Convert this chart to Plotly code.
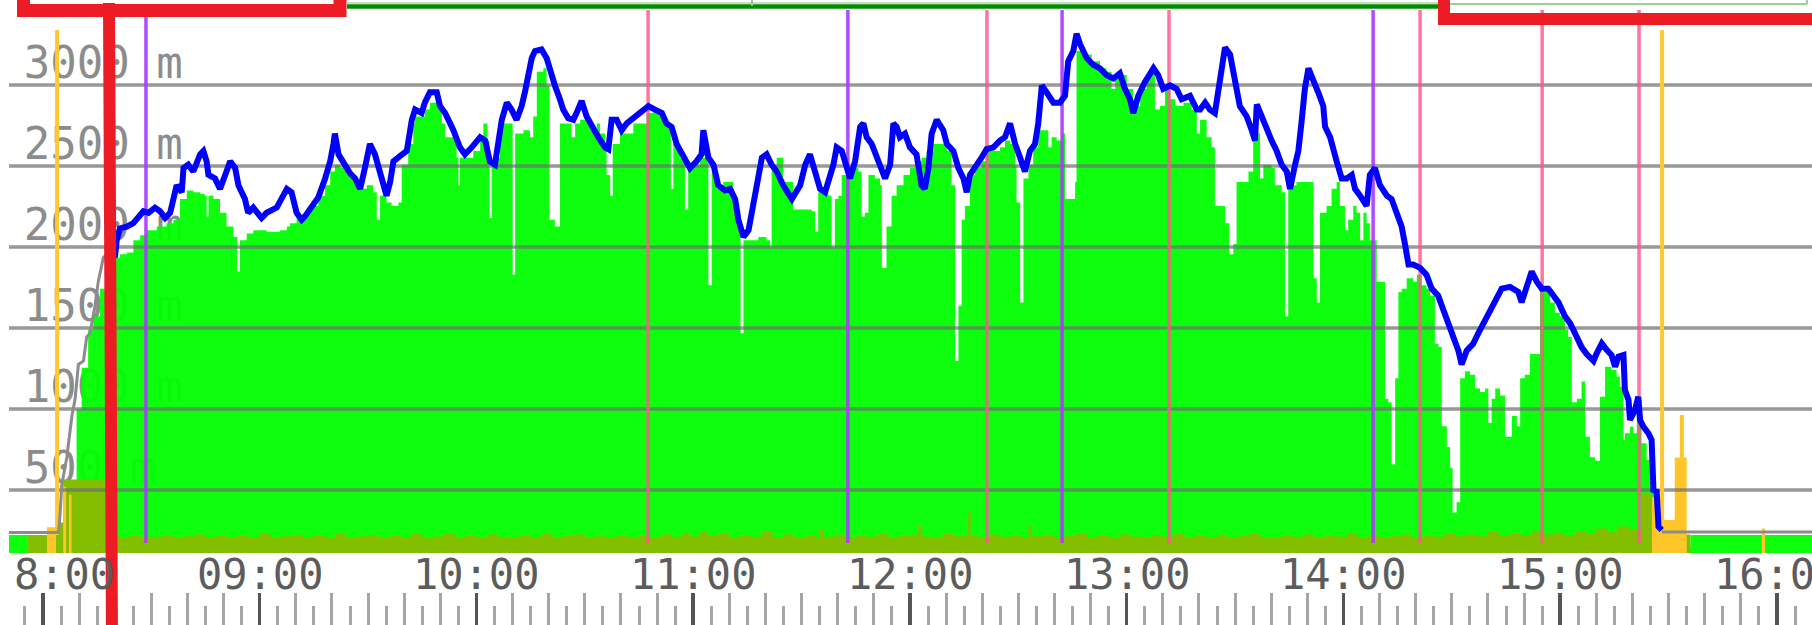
import plotly.graph_objects as go

# ---------------- data (time = minutes after 08:00, altitude in metres) ----------------
X_MIN, X_MAX = -9.41, 489.69
Y_MIN, Y_MAX = 111.1, 3524.7

pre_t = [-9.4, 4.25, 4.7, 5.2, 6.6, 8.0, 8.9, 9.8, 11.2, 12.1, 13.0, 13.9, 14.4, 15.3, 15.8, 16.7, 17.6, 19.9]
pre_alt = [238, 238, 340, 532, 702, 957, 1063, 1275, 1297, 1445, 1467, 1573, 1637, 1786, 1839, 1934, 1956, 1934]

post_t = [448.1, 489.7]
post_alt = [240, 240]

track_t = [19.9, 20.4, 21.3, 23.2, 25.0, 26.4, 27.8, 29.2, 31.0, 32.4, 33.8, 35.2, 36.1, 37.0, 38.4, 38.9, 40.2, 41.6,
           43.5, 44.4, 45.3, 45.8, 47.6, 49.0, 50.8, 51.8, 53.2, 54.1, 55.9, 56.8, 58.2, 60.5, 61.9, 64.7, 67.5, 68.8,
           70.2, 71.6, 72.5, 74.4, 76.2, 78.1, 79.5, 80.4, 80.8, 81.8, 83.6, 85.0, 86.4, 87.8, 89.1, 90.5, 91.9, 93.3,
           95.1, 96.1, 97.0, 98.8,
           100.7, 102.1, 103.0, 104.8, 105.7, 107.1, 109.0, 109.9, 111.3, 112.7, 113.6, 115.4, 116.8, 118.7, 121.0,
           122.4, 123.7, 125.1, 126.0, 127.0, 128.4, 129.7, 131.1, 132.5, 133.4, 134.4, 135.3, 136.2, 138.0, 139.4,
           140.4, 141.7, 143.1, 144.0, 145.4, 146.8, 147.7, 149.1, 150.5, 151.9, 153.7, 155.6, 156.5, 157.4, 158.8,
           160.2, 161.6, 163.4, 165.3, 167.6, 169.4, 171.3, 172.6, 174.0, 175.4, 177.3, 179.1, 180.9, 182.3, 182.8,
           184.2, 185.6, 186.9, 188.8, 190.2, 191.6, 192.5, 193.9, 195.3, 196.2, 197.6, 199.0, 200.3, 201.7, 203.1,
           204.9, 207.3, 208.6,
           209.6, 211.0, 212.3, 213.7, 215.1, 216.5, 217.4, 218.8, 219.7, 221.1, 222.0, 223.4, 224.8, 226.2, 227.1,
           228.0, 229.4, 231.7, 233.1, 234.5, 235.4, 236.3, 237.2, 238.6, 240.0, 241.8, 243.2, 244.1, 245.1, 246.0,
           247.4, 249.2, 250.2, 252.0, 253.4, 254.8, 255.7, 256.6, 258.0, 259.8, 261.2, 263.1, 264.9, 266.3, 267.7,
           269.1, 270.5, 271.8, 273.2, 274.6, 275.5, 276.5, 277.8, 279.7, 281.5, 282.9, 283.8, 285.2, 286.1, 287.1,
           288.9, 290.7, 292.6, 294.4, 296.3, 298.1, 299.5, 300.9, 301.8, 303.2, 305.0, 307.4, 308.7, 310.1, 312.0,
           313.8, 315.2, 317.5, 319.4,
           320.3, 321.7, 323.0, 324.4, 325.4, 326.3, 327.2, 328.6, 329.5, 330.4, 331.3, 333.2, 334.6, 335.5, 336.0,
           337.3, 338.7, 340.1, 341.5, 342.9, 344.3, 345.2, 346.6, 347.5, 348.4, 349.3, 350.3, 351.6, 353.0, 354.4,
           354.9, 356.3, 357.2, 358.1, 359.5, 360.9, 362.3, 363.2, 364.6, 366.4, 367.3, 368.7, 370.1, 372.0, 373.3,
           374.7, 376.1, 377.0, 378.0, 379.3, 381.2, 383.0, 384.4, 386.2, 388.1, 389.0, 390.4, 391.8, 392.7, 394.1,
           395.9, 397.3, 398.7, 400.6, 402.4, 403.8, 406.1, 408.4, 409.3, 410.7, 412.1, 413.5, 414.9, 416.7, 418.1,
           419.5, 421.3, 422.7, 424.1, 425.9, 427.3, 429.2,
           430.1, 431.5, 432.9, 434.2, 435.2, 436.1, 437.5, 437.9, 438.9, 439.3, 440.7, 441.6, 442.1, 443.0, 444.4,
           445.3, 445.8, 446.7, 447.2, 448.1]
track_alt = [1934, 2041, 2115, 2126, 2147, 2189, 2221, 2211, 2243, 2221, 2179, 2211, 2296, 2381, 2338, 2487, 2508, 2466,
             2572, 2593, 2529, 2445, 2423, 2359, 2466, 2529, 2487, 2381, 2296, 2211, 2243, 2179, 2211, 2243, 2359, 2338,
             2211, 2168, 2189, 2243, 2306, 2423, 2529, 2636, 2700, 2572, 2508, 2455, 2423, 2359, 2487, 2636, 2572, 2466,
             2317, 2402, 2529, 2561,
             2593, 2785, 2848, 2827, 2891, 2955, 2955, 2870, 2827, 2763, 2721, 2615, 2572, 2615, 2678,
             2657, 2529, 2508, 2657, 2785, 2891, 2848, 2785, 2870, 2955, 3082, 3167, 3210, 3220, 3167,
             3082, 2997, 2912, 2848, 2795, 2785, 2827, 2902, 2806, 2742, 2678, 2615, 2604, 2785, 2785,
             2721, 2763, 2795, 2827, 2870, 2848, 2827, 2763, 2742, 2636, 2551, 2487, 2529, 2572, 2721,
             2551, 2508, 2381, 2349, 2359, 2296, 2168, 2062, 2104, 2211, 2359, 2551, 2572, 2508, 2466,
             2381, 2296, 2338,
             2381, 2508, 2572, 2466, 2359, 2338, 2402, 2508, 2615, 2593, 2529, 2423, 2529, 2742, 2763,
             2678, 2636, 2508, 2423, 2508, 2763, 2742, 2678, 2700, 2615, 2572, 2381, 2359, 2487, 2700,
             2785, 2721, 2636, 2593, 2487, 2423, 2338, 2445, 2487, 2551, 2604, 2615, 2657, 2678, 2763,
             2636, 2551, 2466, 2593, 2636, 2763, 2997, 2955, 2891, 2891, 2933, 3146, 3210, 3316, 3252,
             3167, 3125, 3103, 3061, 3040, 3072, 2976, 2912, 2827, 2933, 3018, 3103, 3061, 2976, 2997,
             2976, 2912, 2933, 2848,
             2848, 2891, 2848, 2827, 2976, 3146, 3231, 3189, 3061, 2976, 2870, 2806, 2721, 2657, 2880,
             2806, 2742, 2657, 2593, 2508, 2466, 2359, 2508, 2593, 2774, 2976, 3103, 3018, 2955, 2870,
             2742, 2678, 2615, 2529, 2423, 2423, 2445, 2359, 2317, 2253, 2445, 2487, 2381, 2317, 2296,
             2211, 2126, 2019, 1892, 1892, 1871, 1828, 1743, 1700, 1573, 1530, 1445, 1360, 1275, 1360,
             1403, 1467, 1530, 1615, 1679, 1743, 1754, 1722, 1658, 1743, 1849, 1786, 1743, 1743, 1700,
             1658, 1573, 1530, 1467, 1382, 1339, 1297,
             1344, 1405, 1364, 1333, 1261, 1323, 1333, 1117, 1056, 932, 994, 1076, 932, 891, 850,
             809, 500, 490, 274, 253]

fill_t = [-9.4, -4.4, 9.3, 10.7, 12.5, 13.9, 15.8, 17.6, 19.9, 21.3, 23.2, 25.0, 26.9, 28.7, 31.5, 34.2, 36.1, 37.9,
          39.8, 41.6, 43.5, 44.8, 45.3, 45.8, 47.2, 49.0, 50.8, 52.7, 53.8, 54.5, 56.4, 58.2, 61.9, 65.6, 67.5, 68.4,
          70.2, 72.1, 73.9, 76.2, 78.1, 79.5, 80.8, 82.2, 84.1, 85.9, 87.8, 89.6, 91.4, 92.4, 93.3, 95.1, 96.5, 98.4,
          99.3, 101.1, 102.5, 103.0, 104.4, 105.7, 107.1, 108.5, 110.4, 111.3, 113.6, 114.5, 115.0, 115.4, 117.3,
          119.1, 121.0, 121.9, 123.0, 123.6, 124.2, 125.6, 126.5, 127.4, 128.8, 130.0, 130.7, 133.0, 134.8, 135.7,
          136.7, 138.5, 139.4, 140.2, 141.7, 143.1, 145.0, 146.3, 147.3, 148.7, 150.5, 151.9, 153.3, 154.2, 155.6,
          156.0, 157.0, 157.7, 159.7, 163.4, 167.1, 168.9, 170.8, 172.6, 173.8, 174.5, 176.3, 177.7, 178.6, 180.0,
          181.9, 183.2, 184.2, 185.1, 186.5, 188.3, 190.2, 191.1, 192.0, 193.1, 193.9, 196.2, 198.0, 200.3, 201.3,
          201.7, 203.1, 204.9, 207.7,
          209.6, 212.8, 213.7, 214.6, 216.0, 217.4, 218.3, 219.2, 220.2, 221.1, 222.5, 224.3, 225.7, 226.6, 227.5,
          228.5, 230.3, 231.7, 232.2, 233.5, 234.9, 236.3, 238.2, 240.0, 241.8, 243.2, 244.6, 246.5, 248.3, 250.2,
          251.5, 252.5, 253.4, 254.3, 255.2, 256.6, 258.0, 259.8, 261.2, 263.1, 264.9, 266.3, 267.7, 269.1, 269.5,
          270.5, 271.4, 272.8, 274.1, 275.5, 276.9, 278.3, 279.2, 280.6, 282.0, 282.9, 284.8, 285.7, 286.1, 287.5,
          288.9, 290.3, 292.6, 294.4, 295.8, 296.8, 298.1, 300.0, 301.8, 303.7, 305.5, 306.9, 307.8, 309.2, 310.6,
          312.0, 313.4, 315.7, 318.0, 319.4,
          320.3, 322.1, 323.5, 324.4, 325.8, 327.2, 328.4, 329.5, 330.4, 332.3, 333.7, 335.0, 336.4, 336.9, 337.8,
          340.1, 341.0, 342.9, 343.8, 344.7, 347.0, 350.7, 351.7, 352.6, 353.5, 355.3, 356.7, 358.1, 359.0, 360.4,
          361.3, 362.7, 363.6, 364.6, 365.5, 366.4, 367.3, 369.2, 370.6, 371.5, 372.4, 373.3, 374.3, 375.2, 376.1,
          377.5, 379.3, 380.3, 381.6, 383.0, 384.0, 385.3, 386.3, 387.2, 388.6, 389.5, 390.2, 391.3, 392.3, 393.6,
          395.0, 396.4, 397.8, 399.2, 400.1, 401.0, 402.0, 403.3, 404.7, 406.6, 408.0, 408.9, 410.2, 411.6, 414.4,
          415.8, 417.2, 418.5, 419.9, 421.3, 422.2, 423.2, 424.6, 425.9, 426.9, 428.2, 429.6,
          431.0, 432.4, 434.2, 435.6, 436.5, 437.5, 437.9, 439.3, 440.2, 441.2, 442.5, 443.9, 445.3, 446.2, 447.6,
          456.0, 489.7]
fill_alt = [222, 150, 999, 1254, 1488, 1573, 1743, 1828, 1934, 1956, 1966, 2041, 2072, 2104, 2126, 2147, 2168, 2296,
            2349, 2338, 2327, 2317, 2189, 2317, 2296, 2211, 2126, 2062, 1849, 2041, 2083, 2104, 2094, 2104, 2126, 2147,
            2179, 2200, 2253, 2317, 2381, 2466, 2508, 2487, 2445, 2402, 2359, 2381, 2338, 2168, 2317, 2274, 2253, 2274,
            2508, 2636, 2763, 2806, 2806, 2848, 2891, 2891, 2763, 2678, 2678, 2551, 2381, 2551, 2551,
            2593, 2678, 2763, 2657, 2179, 2508, 2551, 2721, 2763, 2763, 1828, 2700, 2721, 2678, 2806,
            3082, 3103, 2997, 2168, 2126, 2763, 2763, 2678, 2763, 2785, 2785, 2721, 2763, 2700, 2636,
            2445, 2317, 2636, 2700, 2763, 2827, 2848, 2806, 2742, 2359, 2636, 2551, 2232, 2487, 2508,
            2551, 2572, 1764, 2466, 2359, 2402, 2402, 2317, 2189, 1467, 2041, 2041, 2062, 2041, 1998,
            2508, 2551, 2402, 2232,
            2232, 2221, 2094, 2338, 2338, 2317, 1998, 2296, 2317, 2445, 2466, 2487, 2466, 2189, 2211,
            2445, 2423, 2381, 1871, 2126, 2317, 2381, 2445, 2487, 2529, 2551, 2593, 2636, 2636, 2593,
            2381, 1297, 1637, 2168, 2253, 2445, 2487, 2529, 2615, 2593, 2615, 2657, 2636, 2508, 2274,
            1658, 2423, 2508, 2615, 2721, 2721, 2615, 2678, 2657, 2700, 2296, 2296, 2402, 3210, 3189,
            3189, 3146, 3103, 3082, 2976, 3040, 3061, 2976, 2870, 2976, 3061, 3103, 2848, 2870, 2976,
            2912, 2870, 2891, 2848, 2700,
            2785, 2678, 2615, 2253, 2253, 2147, 1956, 2019, 2402, 2402, 2466, 2678, 2700, 2423, 2508,
            2487, 2381, 2338, 1573, 2381, 2402, 2402, 1807, 1658, 2211, 2253, 2359, 2402, 2253, 2104,
            2168, 2253, 2211, 2041, 2211, 2147, 2041, 1786, 1786, 1063, 1042, 659, 1190, 1722, 1743,
            1807, 1786, 1828, 1764, 1743, 1700, 1403, 1382, 893, 765, 638, 361, 425, 1190, 1233,
            1212, 1127, 1105, 1127, 914, 1063, 1127, 1084, 829, 957, 893, 1190, 1212, 1339, 1722,
            1722, 1658, 1594, 1573, 1488, 1445, 1042, 1063, 1169, 829, 702, 680,
            1076, 1261, 1241, 1200, 1138, 809, 850, 891, 850, 1055, 788, 685, 520, 356, 150,
            222, 222]

ground_t = [-4.4, 2.0, 4.3, 5.6, 18.5, 21, 24, 27, 30, 33, 36, 39, 42, 45, 48, 51, 54, 57, 60, 63, 66, 69, 72, 75, 78,
            81, 84, 87, 90, 93, 96, 99, 102, 105, 108, 111, 114, 117, 120, 123, 126, 129, 132, 135, 138, 141, 144, 147,
            150, 153, 156, 159, 162, 165, 168, 171, 174, 177, 179, 182, 184, 187, 190, 193, 196, 199, 202, 205, 208,
            211, 214, 215.1, 216.2, 219, 222, 225, 228, 231, 234, 237, 240, 242.3, 243.4, 246, 249, 252, 255, 256.1,
            256.8, 259, 262, 265, 268, 271, 272.8, 273.8, 277, 280, 283, 286, 289, 292, 295, 298, 301, 304, 307, 310,
            313, 316, 319, 322, 325, 328, 331, 334, 337, 340, 343, 346, 349, 352, 355, 358, 361, 364, 367, 370, 373,
            376, 379, 382, 385, 388, 391, 394, 397, 400, 403, 406, 409, 412, 415, 418, 421, 424, 427, 430, 433, 436,
            439, 442.5, 445.3, 448.2, 451, 456, 489.7]
ground_alt = [222, 226, 300, 565, 214, 206, 218, 204, 212, 222, 207, 215, 226, 208, 216, 205, 220, 210, 228, 207, 214,
              224, 206, 217, 209, 230, 205, 215, 222, 206, 219, 210, 228, 205, 213, 232, 209, 218, 205, 225, 212, 204,
              219, 210, 230, 206, 216, 225, 207, 214, 204, 221, 209, 217, 206, 226, 212, 236, 214, 245, 218, 230, 208,
              222, 212, 240, 210, 226, 206, 218, 209, 255, 212, 224, 207, 220, 211, 229, 206, 216, 224, 277, 213, 208,
              228, 214, 222, 361, 220, 208, 226, 212, 219, 207, 277, 215, 224, 208, 216, 230, 210, 221, 206, 226, 213,
              207, 222, 212, 232, 208, 218, 210, 224, 206, 216, 228, 210, 206, 222, 212, 226, 207, 218, 212, 232, 209,
              221, 207, 214, 226, 210, 220, 212, 231, 214, 226, 215, 240, 219, 228, 222, 248, 226, 236, 220, 245, 230,
              262, 240, 275, 255, 480, 320, 232, 226, 0, 0]

signal_t = [1.1, 3.6, 5.6, 6.4, 7.2, 7.9, 445.4, 448.4, 451.7, 453.1, 454.2, 455.0, 475.8, 476.7]
signal_alt = [270, 0, 520, 0, 470, 0, 455, 315, 700, 963, 700, 0, 262, 0]

grid_levels = [500, 1000, 1500, 2000, 2500, 3000]
grid_labels = ["500 m", "1000 m", "1500 m", "2000 m", "2500 m", "3000 m"]

yellow_marks = [3.9, 448.2]
purple_marks = [28.5, 222.8, 282.1, 368.2]
pink_marks = [167.5, 261.3, 311.7, 381.2, 415.0, 441.8]

hour_ticks = [60, 120, 180, 240, 300, 360, 420, 480]
hour_labels = ["09:00", "10:00", "11:00", "12:00", "13:00", "14:00", "15:00", "16:00"]
first_label = "8:00"

# ---------------- figure ----------------
W, H = 1812, 625


def vlines(xs, y0, y1):
    xx, yy = [], []
    for v in xs:
        xx += [v, v, None]
        yy += [y0, y1, None]
    return xx, yy


fig = go.Figure()

# axis labels (drawn first so the green fill lies over them)
fig.add_trace(go.Scatter(x=[-5.3] * len(grid_levels), y=[v - 27 for v in grid_levels], text=grid_labels,
                         mode="text", textposition="top right", hoverinfo="skip",
                         textfont=dict(family="DejaVu Sans Mono", size=44, color="#8c8c8c")))

fig.add_trace(go.Scatter(x=fill_t, y=fill_alt, mode="lines", line=dict(width=0, shape="hv"),
                         fill="tozeroy", fillcolor="rgba(0,255,0,0.95)", hoverinfo="skip"))
fig.add_trace(go.Scatter(x=ground_t, y=ground_alt, mode="lines", line=dict(width=0, shape="hv"),
                         fill="tozeroy", fillcolor="#84be00", hoverinfo="skip"))
fig.add_trace(go.Scatter(x=signal_t, y=signal_alt, mode="lines", line=dict(width=0, shape="hv"),
                         fill="tozeroy", fillcolor="#ffc62a", hoverinfo="skip"))

gx, gy = [], []
for lv in grid_levels:
    gx += [X_MIN, X_MAX, None]
    gy += [lv, lv, None]
fig.add_trace(go.Scatter(x=gx, y=gy, mode="lines", line=dict(color="rgba(112,112,112,0.72)", width=3.5),
                         hoverinfo="skip"))

vx, vy = vlines(yellow_marks, 238, 3340)
fig.add_trace(go.Scatter(x=vx, y=vy, mode="lines", line=dict(color="#ffc82e", width=4), hoverinfo="skip"))
vx, vy = vlines(purple_marks, 173, 3463)
fig.add_trace(go.Scatter(x=vx, y=vy, mode="lines", line=dict(color="rgba(170,60,255,0.92)", width=3.5),
                         hoverinfo="skip"))
vx, vy = vlines(pink_marks, 173, 3463)
fig.add_trace(go.Scatter(x=vx, y=vy, mode="lines", line=dict(color="rgba(255,85,140,0.82)", width=3.5),
                         hoverinfo="skip"))

fig.add_trace(go.Scatter(x=pre_t, y=pre_alt, mode="lines", line=dict(color="#8c8c8c", width=3), hoverinfo="skip"))
fig.add_trace(go.Scatter(x=post_t, y=post_alt, mode="lines", line=dict(color="#8c8c8c", width=3), hoverinfo="skip"))
fig.add_trace(go.Scatter(x=track_t, y=track_alt, mode="lines", line=dict(color="#0000ff", width=6),
                         hoverinfo="skip"))

# dummy traces to carry the tick-mark axes
for ax in ["x2", "x3", "x4"]:
    fig.add_trace(go.Scatter(x=[0], y=[None], xaxis=ax, yaxis="y", mode="lines", hoverinfo="skip"))

dom = [9 / W, 1]
common = dict(range=[X_MIN, X_MAX], showgrid=False, zeroline=False, showline=False, showticklabels=False,
              overlaying="x", anchor="free", tickmode="linear", ticks="outside")
fig.update_layout(
    width=W, height=H, margin=dict(l=0, r=0, t=0, b=0),
    paper_bgcolor="white", plot_bgcolor="white", showlegend=False,
    xaxis=dict(domain=dom, range=[X_MIN, X_MAX], visible=False),
    yaxis=dict(domain=[72 / H, 1], range=[Y_MIN, Y_MAX], visible=False),
    xaxis2=dict(common, position=1 - 592 / H, tick0=0, dtick=10, ticklen=33, tickwidth=3, tickcolor="#a6a6a6"),
    xaxis3=dict(common, position=1 - 605 / H, tick0=5, dtick=10, ticklen=20, tickwidth=3, tickcolor="#a6a6a6"),
    xaxis4=dict(common, position=1 - 592 / H, tick0=0, dtick=60, ticklen=33, tickwidth=3.5, tickcolor="#555555"),
)

ann = [dict(x=12 / W, xref="paper", xanchor="left", y=1 - 548 / H, yref="paper", yanchor="top",
            text=first_label, showarrow=False, font=dict(family="DejaVu Sans Mono", size=42, color="#5c5c5c"))]
for t, lab in zip(hour_ticks, hour_labels):
    ann.append(dict(x=t, xref="x", xanchor="center", y=1 - 548 / H, yref="paper", yanchor="top",
                    text=lab, showarrow=False, font=dict(family="DejaVu Sans Mono", size=42, color="#5c5c5c")))
fig.update_layout(annotations=ann)


def px(x):
    return x / W


def py(y):
    return 1 - y / H


RED = "#ed1c24"
shapes = [
    # top status bar
    dict(type="line", xref="paper", yref="paper", x0=px(347), x1=px(1438), y0=py(3), y1=py(3),
         line=dict(color="#a8d8a8", width=1.5)),
    dict(type="line", xref="paper", yref="paper", x0=px(347), x1=px(1438), y0=py(6.5), y1=py(6.5),
         line=dict(color="#008c00", width=4.5)),
    dict(type="line", xref="paper", yref="paper", x0=px(752), x1=px(752), y0=py(0), y1=py(6),
         line=dict(color="#9cc29c", width=2)),
    dict(type="line", xref="paper", yref="paper", x0=px(1450), x1=px(1807), y0=py(4), y1=py(4),
         line=dict(color="#9ccf9c", width=2)),
    dict(type="line", xref="paper", yref="paper", x0=px(1807), x1=px(1807), y0=py(4), y1=py(-2),
         line=dict(color="#9ccf9c", width=2)),
    # hand-drawn red highlights
    dict(type="rect", xref="paper", yref="paper", x0=px(23.5), x1=px(340), y0=py(10.5), y1=py(-60),
         line=dict(color=RED, width=13)),
    dict(type="line", xref="paper", yref="paper", x0=px(109), x1=px(112), y0=py(3), y1=py(640),
         line=dict(color=RED, width=12)),
    dict(type="rect", xref="paper", yref="paper", x0=px(1444), x1=px(1900), y0=py(19), y1=py(-60),
         line=dict(color=RED, width=12)),
]
fig.update_layout(shapes=shapes)

fig.write_html("out.html", config={"displayModeBar": False, "staticPlot": True},
               post_script="document.body.style.margin='0px';document.body.style.overflow='hidden';")
